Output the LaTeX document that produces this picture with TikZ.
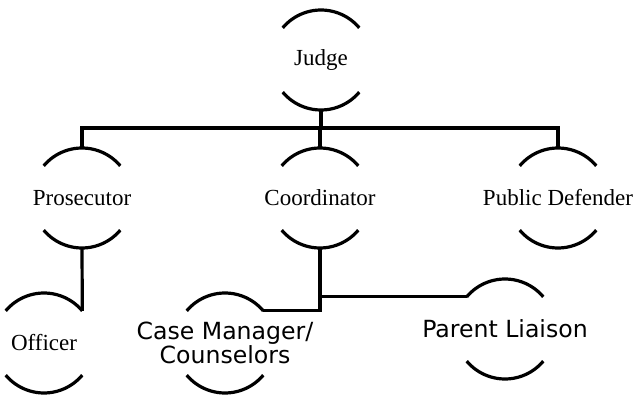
\documentclass[tikz,border=0pt]{standalone}
\usepackage{fontspec}
\setmainfont{Liberation Serif}
\newfontfamily\staffsans{DejaVu Sans}

\begin{document}
\begin{tikzpicture}[x=1pt, y=1pt, line width=3.2pt,
        role/.style={font=\fontsize{23}{25}\selectfont},
        staff/.style={font=\staffsans\fontsize{23.6}{22}\selectfont, align=center}]
    \useasboundingbox (0,0) rectangle (639,-395);

    \node[role] (judge) at (321,-60) {Judge};
    \node[role] (pros) at (82,-198) {Prosecutor};
    \node[role] (coord) at (320,-198) {Coordinator};
    \node[role] (pd) at (558,-198) {Public Defender};
    \node[role] (off) at (44,-343) {Officer};
    \node[staff] (cm) at (225,-343) {Case Manager/\\Counselors};
    \node[staff] (pl) at (505,-329) {Parent Liaison};

    % arcs above and below every title
    \foreach \n in {judge,pros,coord,pd,off,cm,pl} {
        \coordinate (\n-t) at ([shift={(90:50)}]\n.center);
        \coordinate (\n-b) at ([shift={(270:50)}]\n.center);
        \coordinate (\n-tl) at ([shift={(140:50)}]\n.center);
        \coordinate (\n-tr) at ([shift={(40:50)}]\n.center);
        \draw (\n-tl) arc[start angle=140, end angle=40, radius=50];
        \draw ([shift={(220:50)}]\n.center) arc[start angle=220, end angle=320, radius=50];
    }

    \coordinate (bar) at (0,-128);
    \draw (judge-b) -- (judge-b |- bar);
    \draw (pros-t) |- (bar -| pd-t) -- (pd-t);
    \draw (coord-t) -- (coord-t |- bar);
    \draw (pros-b) -- (off-tr);
    \draw (coord-b) |- (cm-tr);
    \draw (coord-b |- pl-tl) -- (pl-tl);
\end{tikzpicture}
\end{document}
